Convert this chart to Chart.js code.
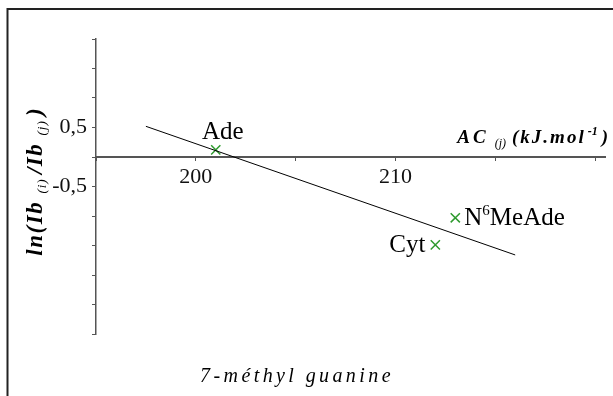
<!DOCTYPE html>
<html>
<head>
<meta charset="utf-8">
<title>7-méthyl guanine</title>
<script src="https://cdn.jsdelivr.net/npm/chart.js@4"></script>
<style>
  html, body { margin: 0; padding: 0; background: #fff; }
  #wrap { width: 613px; height: 396px; position: relative; }
</style>
</head>
<body>
<div id="wrap"><canvas id="chart" width="613" height="396"></canvas></div>
<script>
// compounds and their values
const compounds = ['Ade', 'Cyt', 'N⁶MeAde'];
const acValues = [201.0, 212.0, 213.0];
const lnValues = [0.12, -1.49, -1.03];

// fitted line end points
const fitX = [197.5, 216.0];
const fitY = [0.52, -1.66];

// axis ticks that carry a label
const xTickLabels = [200, 210];
const yTickLabels = [0.5, -0.5];

const SERIF = "'Liberation Serif', 'Times New Roman', serif";
const GREEN = '#2e9a2e';
const AXIS = '#555';

// where each compound label sits relative to its marker
const labelPlace = {
    'Ade': { dx: 7, dy: -11, align: 'center' },
    'Cyt': { dx: -10, dy: 7, align: 'right' },
    'N⁶MeAde': { dx: 9, dy: 7, align: 'left' }
};

const SUPS = '⁰¹²³⁴⁵⁶⁷⁸⁹';

// draw a list of text runs one after another
function drawRuns(ctx, runs, x, y, align) {
    let total = 0;
    runs.forEach(r => {
        ctx.font = r.font;
        ctx.letterSpacing = r.spacing || '0px';
        r.w = ctx.measureText(r.text).width + (r.gap || 0);
        total += r.w;
    });
    let cx = x;
    if (align === 'center') cx = x - total / 2;
    else if (align === 'right') cx = x - total;
    runs.forEach(r => {
        ctx.font = r.font;
        ctx.letterSpacing = r.spacing || '0px';
        ctx.fillText(r.text, cx, y + (r.dy || 0));
        cx += r.w;
    });
    ctx.letterSpacing = '0px';
}

function labelRuns(name) {
    const runs = [];
    for (const ch of name) {
        const i = SUPS.indexOf(ch);
        const last = runs[runs.length - 1];
        if (i >= 0) runs.push({ text: String(i), font: `15px ${SERIF}`, dy: -10, sup: true });
        else if (last && !last.sup) last.text += ch;
        else runs.push({ text: ch, font: `25px ${SERIF}` });
    }
    return runs;
}

const decorations = {
    id: 'decorations',
    afterDraw(chart) {
        const ctx = chart.ctx;
        ctx.save();

        // outer frame (cropped on the right and bottom)
        ctx.strokeStyle = '#222';
        ctx.lineWidth = 2;
        ctx.strokeRect(7.5, 9, 640, 420);

        ctx.fillStyle = '#000';
        ctx.textBaseline = 'alphabetic';

        // compound labels
        const meta = chart.getDatasetMeta(1);
        meta.data.forEach((pt, i) => {
            const p = labelPlace[compounds[i]];
            drawRuns(ctx, labelRuns(compounds[i]), pt.x + p.dx, pt.y + p.dy, p.align);
        });

        const bi = (s) => `italic bold ${s}px ${SERIF}`;
        const it = (s) => `italic ${s}px ${SERIF}`;

        // x axis title
        drawRuns(ctx, [
            { text: 'AC', font: bi(19), spacing: '3px', gap: 6 },
            { text: '(j)', font: it(12), dy: 4, gap: 6 },
            { text: '(kJ.mol', font: bi(19), spacing: '2px', gap: 2 },
            { text: '-1', font: bi(12), dy: -8, gap: 4 },
            { text: ')', font: bi(19) }
        ], 608, 143, 'right');

        // y axis title
        ctx.save();
        ctx.translate(42, 182);
        ctx.rotate(-Math.PI / 2);
        drawRuns(ctx, [
            { text: 'ln(Ib ', font: bi(23), spacing: '1.5px' },
            { text: '(i) ', font: it(13), dy: 4, spacing: '1px' },
            { text: '/Ib ', font: bi(23), spacing: '1.5px' },
            { text: '(j) ', font: it(13), dy: 4, spacing: '1px' },
            { text: ')', font: bi(23) }
        ], 0, 0, 'center');
        ctx.restore();

        // caption
        drawRuns(ctx, [
            { text: '7-méthyl guanine', font: it(20), spacing: '3.4px' }
        ], 297, 382, 'center');

        ctx.restore();
    }
};

const ctx = document.getElementById('chart').getContext('2d');

new Chart(ctx, {
    type: 'scatter',
    data: {
        datasets: [
            {
                label: 'fit',
                data: fitX.map((x, i) => ({ x: x, y: fitY[i] })),
                showLine: true,
                borderColor: '#000',
                borderWidth: 1,
                pointRadius: 0
            },
            {
                label: 'compounds',
                data: acValues.map((x, i) => ({ x: x, y: lnValues[i] })),
                pointStyle: 'crossRot',
                pointRadius: 6.5,
                borderColor: GREEN,
                backgroundColor: GREEN,
                pointBorderWidth: 1.5
            }
        ]
    },
    options: {
        responsive: false,
        animation: false,
        layout: { padding: { top: 39, bottom: 62, left: 0, right: 0 } },
        plugins: {
            legend: { display: false },
            tooltip: { enabled: false }
        },
        scales: {
            x: {
                type: 'linear',
                min: 195,
                max: 220.5,
                position: { y: 0 },
                border: { color: AXIS, width: 2 },
                grid: { drawOnChartArea: false, drawTicks: true, tickLength: 3, color: AXIS },
                ticks: {
                    stepSize: 5,
                    includeBounds: false,
                    autoSkip: false,
                    maxRotation: 0,
                    padding: 4,
                    color: '#111',
                    font: { family: SERIF, size: 22 },
                    callback: (v) => xTickLabels.includes(v) ? String(v) : ''
                }
            },
            y: {
                type: 'linear',
                min: -3,
                max: 2,
                position: 'left',
                border: { color: AXIS, width: 1.5 },
                grid: { drawOnChartArea: false, drawTicks: true, tickLength: 4, color: AXIS },
                ticks: {
                    stepSize: 0.5,
                    autoSkip: false,
                    padding: 5,
                    color: '#111',
                    font: { family: SERIF, size: 22 },
                    callback: (v) => yTickLabels.some(t => Math.abs(t - v) < 1e-6) ? String(v).replace('.', ',') : ''
                },
                afterFit: (scale) => { scale.width = 96; }
            }
        }
    },
    plugins: [decorations]
});
</script>
</body>
</html>
